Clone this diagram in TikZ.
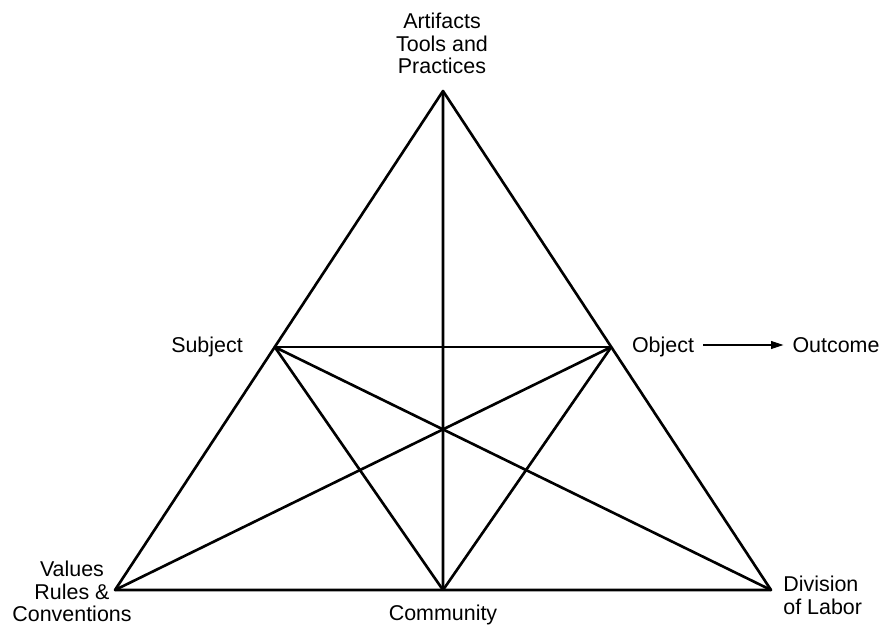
\documentclass[tikz,border=0pt]{standalone}
\usepackage{fontspec}
\setmainfont{Liberation Sans}
\usetikzlibrary{arrows.meta,calc}

\begin{document}
\begin{tikzpicture}[x=0.02cm,y=-0.02cm,
  edge/.style={line width=1.5pt,line join=round},
  lbl/.style={inner sep=0pt,font=\fontsize{12.2}{12.6}\selectfont}]
\useasboundingbox (0,0) rectangle (884,627);
% corners of the triangle
\coordinate (art) at (443,91);
\coordinate (val) at (115,590);
\coordinate (div) at (771,590);
\coordinate (subj) at ($(art)!0.513!(val)$);
\coordinate (obj) at ($(art)!0.513!(div)$);
\coordinate (comm) at ($(val)!0.5!(div)$);
% lines
\draw[edge] (art)--(val)--(div)--cycle;
\foreach \a/\b in {art/comm,subj/obj,subj/comm,obj/comm,subj/div,obj/val}{
  \draw[edge] (\a)--(\b);
}
% labels
\node[lbl,anchor=north,align=center] (artlbl) at (442,13) {Artifacts\\Tools and\\Practices};
\node[lbl,anchor=base] (subjlbl) at (207,352) {Subject};
\node[lbl,anchor=base] (objlbl) at (663,352) {Object};
\node[lbl,anchor=base] (outlbl) at (836,352) {Outcome};
\node[lbl,anchor=north,align=center] (vallbl) at (72,561) {Values\\Rules \&\\Conventions};
\node[lbl,anchor=base] (commlbl) at (443,620) {Community};
\node[lbl,anchor=north west,align=left] (divlbl) at (783,576) {Division\\of Labor};
\draw[line width=0.6pt,-{Triangle[length=7pt,width=4.5pt]}] ($(objlbl.base east)+(5pt,4pt)$)--($(outlbl.base west)+(-5pt,4pt)$);
\end{tikzpicture}
\end{document}
